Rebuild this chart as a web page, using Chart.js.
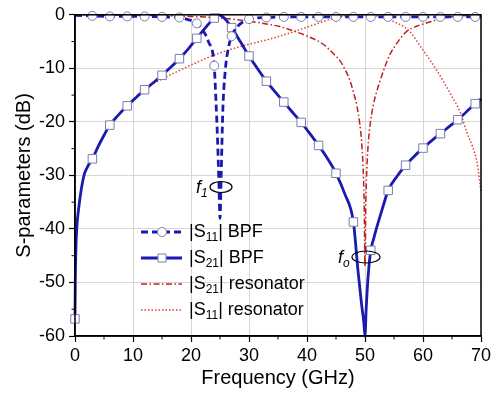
<!DOCTYPE html>
<html>
<head>
<meta charset="utf-8">
<script src="https://cdn.jsdelivr.net/npm/chart.js@4"></script>
<style>
  html, body { margin: 0; padding: 0; background: #fff; }
  #wrap { width: 496px; height: 397px; }
</style>
</head>
<body>
<div id="wrap"><canvas id="sparChart" width="496" height="397"></canvas></div>
<script>
// S-parameters chart - BPF vs resonator

// ==================== DATA ====================

const xTicks = [0, 10, 20, 30, 40, 50, 60, 70];
const yTicks = [0, -10, -20, -30, -40, -50, -60];

// |S11| BPF
const freqS11 = [0, 3, 6, 9, 12, 15, 18, 19.5, 21, 22, 23, 24, 24.3, 24.6, 24.8, 25, 25.2, 25.5, 25.9, 26.4, 27, 28, 29, 30, 33, 36, 39, 42, 45, 48, 51, 54, 57, 60, 63, 66, 69, 70];
const s11Bpf = [-0.1, -0.2, -0.3, -0.3, -0.3, -0.4, -0.5, -0.9, -1.6, -2.8, -5.0, -9.5, -16, -24, -31, -38, -30, -17.5, -10.5, -6.5, -4.0, -2.2, -1.3, -0.8, -0.5, -0.4, -0.4, -0.4, -0.4, -0.4, -0.4, -0.4, -0.4, -0.4, -0.4, -0.4, -0.4, -0.4];

// |S21| BPF
const freqS21 = [0, 0.05, 0.15, 0.3, 0.7, 1.5, 2.2, 3, 4, 5, 6, 7.5, 9, 10.5, 12, 13.5, 15, 16.5, 18, 19.5, 21, 22.5, 24, 24.8, 25.5, 26.2, 27, 28.5, 30, 31.5, 33, 34.5, 36, 37.5, 39, 40.5, 42, 43.5, 45, 46.5, 48, 48.8, 49.4, 49.8, 50, 50.2, 50.6, 51, 51.5, 52, 53, 54, 55.5, 57, 58.5, 60, 61.5, 63, 64.5, 66, 67.5, 69, 70];
const s21Bpf = [-56.8, -50, -44, -40, -35.6, -30.2, -28.3, -26.9, -24.6, -22.5, -20.6, -18.7, -17.0, -15.5, -14.0, -12.7, -11.3, -9.8, -8.2, -6.4, -4.4, -2.4, -0.6, 0, -0.4, -1.2, -2.4, -5.0, -7.7, -10.1, -12.4, -14.4, -16.3, -18.2, -20.1, -22.2, -24.4, -26.8, -29.6, -33.4, -38.7, -47.9, -54, -57.5, -60, -55, -48, -44, -41.8, -39.8, -36.2, -32.8, -30.2, -28.1, -26.4, -24.9, -23.5, -22.2, -20.9, -19.6, -18.1, -16.6, -15.7];

// |S21| resonator
const freqRes21 = [0, 10, 20, 25, 30, 33, 35.3, 37.9, 40.5, 42.8, 44.5, 45.7, 46.6, 47.4, 48.1, 48.6, 49.1, 49.4, 49.65, 49.85, 50, 50.15, 50.35, 50.6, 50.9, 51.4, 51.9, 52.6, 53.4, 54.3, 55.5, 57.2, 59, 60.7, 63, 65.3, 70];
const s21Res = [0, -0.1, -0.3, -0.6, -1.2, -1.7, -2.2, -3.1, -4.2, -5.5, -7.2, -8.6, -10.3, -12.3, -14.8, -17, -20.4, -23.5, -28, -35, -47, -35, -28, -23.5, -20.4, -17, -14.8, -12.3, -9.8, -7.4, -5.3, -3.1, -2.1, -1.5, -0.8, -0.3, -0.1];

// |S11| resonator
const freqRes11 = [0, 0.05, 0.15, 0.3, 0.7, 1.5, 3, 6, 9, 12, 15, 18, 21, 24, 27, 30, 33, 35.3, 37.9, 40, 42.2, 45, 47.5, 50, 52.5, 55, 57.5, 60, 62.4, 64.7, 66.5, 67.6, 68.5, 69.3, 70];
const s11Res = [-57, -50, -44, -40, -35.6, -30.3, -27, -20.7, -17.1, -13.9, -12.0, -10.4, -8.9, -7.5, -6.4, -5.5, -4.7, -4.0, -3.1, -2.3, -1.5, -0.5, -0.1, 0, -0.3, -1.3, -2.9, -6.6, -10.4, -14.7, -18.4, -22.1, -24.5, -27.5, -33];

const legendLabels = [
    ['|S', '11', '| BPF'],
    ['|S', '21', '| BPF'],
    ['|S', '21', '| resonator'],
    ['|S', '11', '| resonator']
];

// ==================== STYLE ====================

const FONT = 'Arial, "Liberation Sans", Helvetica, sans-serif';
const BLUE = '#1a1ab0';
const RED_DD = '#c41e1e';
const RED_DOT = '#dd4433';
const MARK_EDGE = '#7c7cb4';

function toPoints(xs, ys) {
    return xs.map((x, i) => ({ x: x, y: ys[i] }));
}

// marcadores cada 3 GHz
function markerRadius(size, withZero) {
    return function(ctx) {
        const x = ctx.raw && ctx.raw.x;
        if (!Number.isInteger(x) || x % 3 !== 0) return 0;
        if (x === 0 && !withZero) return 0;
        return size;
    };
}

// ==================== EXTRA DRAWING ====================

function drawSubText(ctx, parts, x, y, size, italic) {
    const main = (italic ? 'italic ' : '') + size + 'px ' + FONT;
    const sub = (italic ? 'italic ' : '') + Math.round(size * 0.68) + 'px ' + FONT;
    ctx.font = main;
    ctx.fillText(parts[0], x, y);
    x += ctx.measureText(parts[0]).width;
    ctx.font = sub;
    ctx.fillText(parts[1], x, y + size * 0.3);
    x += ctx.measureText(parts[1]).width;
    if (parts[2]) {
        ctx.font = main;
        ctx.fillText(parts[2], x, y);
    }
}

const extrasPlugin = {
    id: 'extras',
    afterDraw(chart) {
        const ctx = chart.ctx;
        const area = chart.chartArea;
        const xs = chart.scales.x;
        const ys = chart.scales.y;
        ctx.save();

        // marco
        ctx.strokeStyle = '#000';
        ctx.lineWidth = 1.5;
        ctx.strokeRect(area.left, area.top, area.right - area.left, area.bottom - area.top);

        // ticks menores
        ctx.lineWidth = 1;
        ctx.beginPath();
        for (let v = 5; v < 70; v += 10) {
            const px = xs.getPixelForValue(v);
            ctx.moveTo(px, area.bottom);
            ctx.lineTo(px, area.bottom + 3.5);
        }
        for (let v = -5; v > -60; v -= 10) {
            const py = ys.getPixelForValue(v);
            ctx.moveTo(area.left, py);
            ctx.lineTo(area.left - 3.5, py);
        }
        ctx.stroke();

        // titulos de ejes
        ctx.fillStyle = '#000';
        ctx.font = '20px ' + FONT;
        ctx.textAlign = 'center';
        ctx.textBaseline = 'middle';
        ctx.fillText('Frequency (GHz)', (area.left + area.right) / 2, 378);
        ctx.save();
        ctx.translate(24, (area.top + area.bottom) / 2);
        ctx.rotate(-Math.PI / 2);
        ctx.fillText('S-parameters (dB)', 0, 0);
        ctx.restore();

        // leyenda
        const rowsY = [232, 258, 284, 310];
        const x0 = 141, x1 = 182, xm = 162, xt = 189;
        ctx.textAlign = 'left';
        chart.data.datasets.forEach((ds, i) => {
            const y = rowsY[i];
            ctx.save();
            ctx.strokeStyle = ds.borderColor;
            ctx.lineWidth = ds.borderWidth;
            ctx.setLineDash(ds.borderDash || []);
            ctx.beginPath();
            ctx.moveTo(x0, y);
            ctx.lineTo(x1, y);
            ctx.stroke();
            ctx.setLineDash([]);
            if (i < 2) {
                ctx.fillStyle = '#fff';
                ctx.strokeStyle = MARK_EDGE;
                ctx.lineWidth = 1;
                ctx.beginPath();
                if (i === 0) ctx.arc(xm, y, 4.5, 0, Math.PI * 2);
                else ctx.rect(xm - 4, y - 4, 8, 8);
                ctx.fill();
                ctx.stroke();
            }
            ctx.restore();
            ctx.fillStyle = '#000';
            drawSubText(ctx, legendLabels[i], xt, y, 18, false);
        });

        // anotaciones f1 y fo
        ctx.strokeStyle = '#000';
        ctx.lineWidth = 1.2;
        ctx.beginPath();
        ctx.ellipse(221, 187, 11, 5.5, 0, 0, Math.PI * 2);
        ctx.stroke();
        ctx.beginPath();
        ctx.ellipse(366, 257, 14, 6, 0, 0, Math.PI * 2);
        ctx.stroke();
        ctx.fillStyle = '#000';
        drawSubText(ctx, ['f', '1', ''], 196, 188, 18, true);
        drawSubText(ctx, ['f', 'o', ''], 338, 258, 18, true);

        ctx.restore();
    }
};

// ==================== CHART ====================

function createSparChart() {
    const ctx = document.getElementById('sparChart');
    if (!ctx) return;

    new Chart(ctx, {
        type: 'line',
        data: {
            datasets: [{
                label: '|S11| BPF',
                data: toPoints(freqS11, s11Bpf),
                borderColor: BLUE,
                borderWidth: 2.8,
                borderDash: [7, 4],
                pointStyle: 'circle',
                pointRadius: markerRadius(4.5, false),
                pointBackgroundColor: '#fff',
                pointBorderColor: MARK_EDGE,
                pointBorderWidth: 1,
                cubicInterpolationMode: 'monotone',
                clip: 6
            }, {
                label: '|S21| BPF',
                data: toPoints(freqS21, s21Bpf),
                borderColor: BLUE,
                borderWidth: 2.8,
                pointStyle: 'rect',
                pointRadius: markerRadius(6, true),
                pointBackgroundColor: '#fff',
                pointBorderColor: MARK_EDGE,
                pointBorderWidth: 1,
                cubicInterpolationMode: 'monotone',
                clip: 6
            }, {
                label: '|S21| resonator',
                data: toPoints(freqRes21, s21Res),
                borderColor: RED_DD,
                borderWidth: 1.5,
                borderDash: [6, 2.5, 1.5, 2.5],
                pointRadius: 0,
                cubicInterpolationMode: 'monotone',
                clip: 2
            }, {
                label: '|S11| resonator',
                data: toPoints(freqRes11, s11Res),
                borderColor: RED_DOT,
                borderWidth: 1.5,
                borderDash: [1.5, 2],
                pointRadius: 0,
                cubicInterpolationMode: 'monotone',
                clip: 2
            }]
        },
        options: {
            responsive: false,
            animation: false,
            devicePixelRatio: 1,
            layout: { padding: { top: 10, right: 15, left: 0, bottom: 0 } },
            plugins: {
                legend: { display: false },
                tooltip: { enabled: false }
            },
            scales: {
                x: {
                    type: 'linear',
                    min: 0,
                    max: 70,
                    afterFit: function(scale) { scale.height = 61; },
                    afterBuildTicks: function(scale) {
                        scale.ticks = xTicks.map(v => ({ value: v }));
                    },
                    ticks: {
                        color: '#000',
                        padding: 3,
                        maxRotation: 0,
                        font: { size: 18, family: FONT }
                    },
                    grid: {
                        color: '#d6d6d6',
                        lineWidth: 1,
                        tickColor: '#000',
                        tickLength: 6,
                        tickWidth: 1.2
                    },
                    border: { color: '#000', width: 1.5 }
                },
                y: {
                    type: 'linear',
                    min: -60,
                    max: 0,
                    afterFit: function(scale) { scale.width = 75; },
                    afterBuildTicks: function(scale) {
                        scale.ticks = yTicks.map(v => ({ value: v }));
                    },
                    ticks: {
                        color: '#000',
                        padding: 4,
                        font: { size: 18, family: FONT }
                    },
                    grid: {
                        color: '#d6d6d6',
                        lineWidth: 1,
                        tickColor: '#000',
                        tickLength: 6,
                        tickWidth: 1.2
                    },
                    border: { color: '#000', width: 1.5 }
                }
            }
        },
        plugins: [extrasPlugin]
    });
}

createSparChart();
</script>
</body>
</html>
